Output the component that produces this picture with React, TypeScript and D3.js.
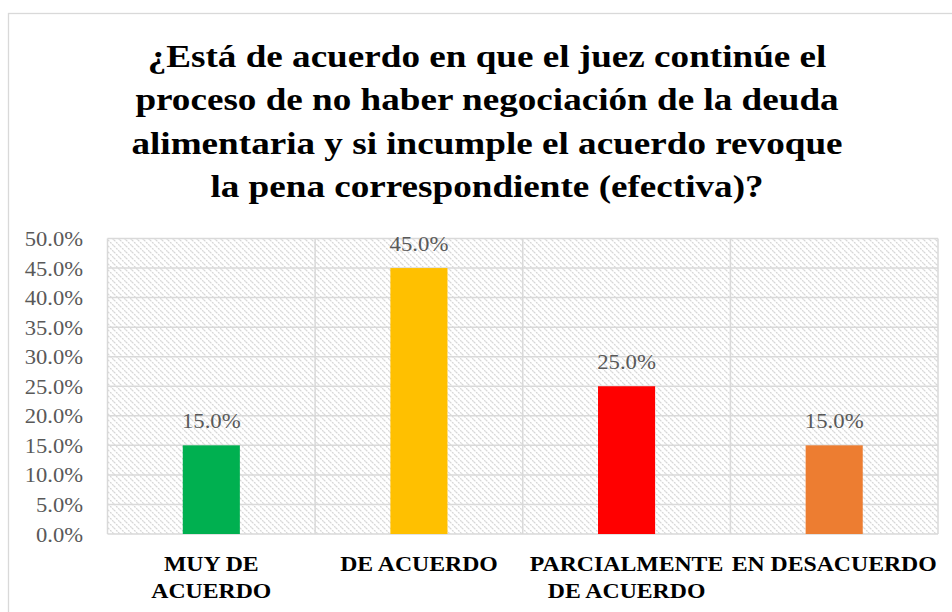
import React from "react";
import * as d3 from "d3";

const categories: string[][] = [
  ["MUY DE", "ACUERDO"],
  ["DE ACUERDO"],
  ["PARCIALMENTE", "DE ACUERDO"],
  ["EN DESACUERDO"],
];
const categoryKeys = ["MUY DE ACUERDO", "DE ACUERDO", "PARCIALMENTE DE ACUERDO", "EN DESACUERDO"];
const values = [0.15, 0.45, 0.25, 0.15];
const colors = ["#00B050", "#FFC000", "#FF0000", "#ED7D31"];
const yTicks = [0, 0.05, 0.1, 0.15, 0.2, 0.25, 0.3, 0.35, 0.4, 0.45, 0.5];
const titleLines = [
  "¿Está de acuerdo en que el juez continúe el",
  "proceso de no haber negociación de la deuda",
  "alimentaria y si incumple el acuerdo revoque",
  "la pena correspondiente (efectiva)?",
];

export default function App() {
  const W = 952, H = 612;
  const left = 107.5, right = 938, top = 238.5, bottom = 534;
  const y = d3.scaleLinear().domain([0, 0.5]).range([bottom, top]);
  const x = d3.scaleBand<string>().domain(categoryKeys).range([left, right]).paddingInner(0.725).paddingOuter(0.3625);
  const step = x.step();
  const fmt = d3.format(".1%");
  const serif = { fontFamily: '"Liberation Serif", "DejaVu Serif", serif' };
  const grid = "#d9d9d9";
  const tr = (px: number, py: number, sx: number) => `translate(${px},${py}) scale(${sx},1)`;
  return (
    <svg width={W} height={H} style={{ position: "absolute", left: 0, top: 0 }}>
      <defs>
        <pattern id="hatch" patternUnits="userSpaceOnUse" width={6} height={6}>
          <rect width={6} height={6} fill="#ffffff" />
          <path d="M0,0 L6,6 M-1,5 L1,7 M5,-1 L7,1" stroke="#d6d6d6" strokeWidth={1.2} strokeDasharray="2,1" />
        </pattern>
      </defs>
      <rect x={0} y={0} width={W} height={H} fill="#fff" />
      <rect x={8.5} y={13.5} width={W + 20} height={H + 20} fill="#fff" stroke={grid} strokeWidth={1.3} />
      {titleLines.map((t, i) => (
        <text key={i} transform={tr(487, 67 + i * 43.4, 1.143)} textAnchor="middle" fontSize={32.5} fontWeight="bold" fill="#000" style={serif}>
          {t}
        </text>
      ))}
      <rect x={left} y={top} width={right - left} height={bottom - top} fill="url(#hatch)" />
      {yTicks.map((t, i) => (
        <line key={i} x1={left} x2={right} y1={y(t)} y2={y(t)} stroke={grid} strokeWidth={1.5} />
      ))}
      {categoryKeys.map((c, i) => (
        <line key={"v" + i} x1={left + step * i} x2={left + step * i} y1={top} y2={bottom} stroke={grid} strokeWidth={1.5} />
      ))}
      <line x1={right} x2={right} y1={top} y2={bottom} stroke={grid} strokeWidth={1.5} />
      {yTicks.map((t, i) => (
        <text key={"t" + i} transform={tr(83, y(t) + 7.5, 1.06)} textAnchor="end" fontSize={21.3} fill="#595959" style={serif}>
          {fmt(t)}
        </text>
      ))}
      {categoryKeys.map((c, i) => (
        <rect key={"b" + i} x={x(c)} y={y(values[i])} width={x.bandwidth()} height={y(0) - y(values[i])} fill={colors[i]} />
      ))}
      {categoryKeys.map((c, i) => (
        <text key={"l" + i} transform={tr((x(c) as number) + x.bandwidth() / 2, y(values[i]) - 17.5, 1.07)} textAnchor="middle" fontSize={21.3} fill="#595959" style={serif}>
          {fmt(values[i])}
        </text>
      ))}
      {categoryKeys.map((c, i) =>
        categories[i].map((ln, j) => (
          <text key={"c" + i + "_" + j} transform={tr(left + step * (i + 0.5), 571 + j * 26.5, 1.08)} textAnchor="middle" fontSize={22} fontWeight="bold" fill="#000" style={serif}>
            {ln}
          </text>
        ))
      )}
    </svg>
  );
}
